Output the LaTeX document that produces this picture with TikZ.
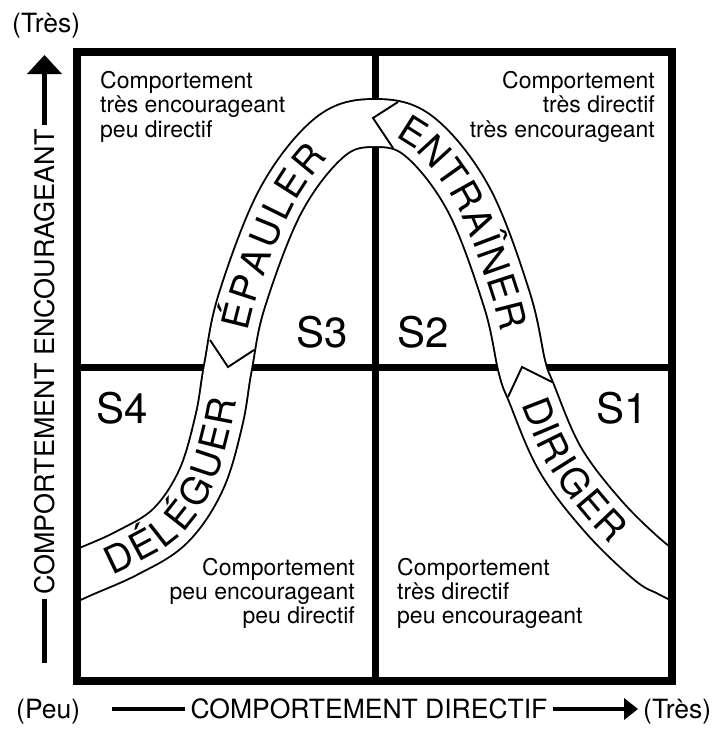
\documentclass[tikz,border=0pt]{standalone}
\usepackage{fontspec}
\setmainfont{TeX Gyre Heros}
\usetikzlibrary{decorations.markings}
\newcommand\bandfont{\fontsize{38}{40}\selectfont}
\begin{document}
\begin{tikzpicture}[x=1pt,y=-1pt,
  quad/.style={font=\fontsize{23}{24}\selectfont, inner sep=0pt},
  axislbl/.style={font=\fontsize{26.5}{28}\selectfont, inner sep=0pt},
  slabel/.style={font=\fontsize{42}{44}\selectfont, inner sep=0pt},
  midline/.style={line width=7pt},
  frame/.style={line width=8pt},
  bandedge/.style={line width=1.9pt, double=white, double distance=46pt},
  chev/.style={line width=1.9pt, line join=miter},
  bandletter/.style={font=\bandfont, inner sep=0pt, text height=27.3pt, text depth=0pt, anchor=center, transform shape},
  axisline/.style={line width=4.5pt},
]
\useasboundingbox (0,0) rectangle (717,729);

% quadrant lines
\draw[midline] (375,52) -- (375,681);
\draw[midline] (77,367) -- (672,367);

% band
\begin{scope}
\clip (77,52) rectangle (672,681);
\draw[bandedge] plot[smooth, tension=0.6] coordinates {(60,583) (82,573) (127,553) (170,526) (201,480) (219,420) (228,367) (242,300) (281,200) (330,137) (375,123) (420,137) (469,200) (507,300) (522,367) (531,392) (560,459) (603,516) (648,560) (668,572) (690,583)};
\end{scope}

% chevrons
\draw[chev] (210,340) -- (228,367) -- (254,350);
\draw[chev] (508,397) -- (522,367) -- (552,382);
\draw[chev] (398,102) -- (373,118) -- (393,148);

% band words, letter by letter along the centre line
\path[decorate, decoration={markings,
  mark=at position 0.05403 with {\node[bandletter] (d1) {D};},
  mark=at position 0.07700 with {\node[bandletter] (d2) {É};},
  mark=at position 0.09729 with {\node[bandletter] (d3) {L};},
  mark=at position 0.11757 with {\node[bandletter] (d4) {É};},
  mark=at position 0.14149 with {\node[bandletter] (d5) {G};},
  mark=at position 0.16626 with {\node[bandletter] (d6) {U};},
  mark=at position 0.18916 with {\node[bandletter] (d7) {E};},
  mark=at position 0.21216 with {\node[bandletter] (d8) {R};},
  mark=at position 0.29321 with {\node[bandletter] (e1) {É};},
  mark=at position 0.31777 with {\node[bandletter] (e2) {P};},
  mark=at position 0.34232 with {\node[bandletter] (e3) {A};},
  mark=at position 0.36785 with {\node[bandletter] (e4) {U};},
  mark=at position 0.39152 with {\node[bandletter] (e5) {L};},
  mark=at position 0.41425 with {\node[bandletter] (e6) {E};},
  mark=at position 0.43978 with {\node[bandletter] (e7) {R};},
  mark=at position 0.53985 with {\node[bandletter] (n1) {E};},
  mark=at position 0.56403 with {\node[bandletter] (n2) {N};},
  mark=at position 0.58727 with {\node[bandletter] (n3) {T};},
  mark=at position 0.61052 with {\node[bandletter] (n4) {R};},
  mark=at position 0.63460 with {\node[bandletter] (n5) {A};},
  mark=at position 0.65168 with {\node[bandletter] (n6) {Î};},
  mark=at position 0.66960 with {\node[bandletter] (n7) {N};},
  mark=at position 0.69369 with {\node[bandletter] (n8) {E};},
  mark=at position 0.71786 with {\node[bandletter] (n9) {R};},
  mark=at position 0.80273 with {\node[bandletter] (r1) {D};},
  mark=at position 0.81929 with {\node[bandletter] (r2) {I};},
  mark=at position 0.83586 with {\node[bandletter] (r3) {R};},
  mark=at position 0.85242 with {\node[bandletter] (r4) {I};},
  mark=at position 0.86991 with {\node[bandletter] (r5) {G};},
  mark=at position 0.89358 with {\node[bandletter] (r6) {E};},
  mark=at position 0.91641 with {\node[bandletter] (r7) {R};}
  }] plot[smooth, tension=0.6] coordinates {(60,583) (82,573) (127,553) (170,526) (201,480) (219,420) (228,367) (242,300) (281,200) (330,137) (375,123) (420,137) (469,200) (507,300) (522,367) (531,392) (560,459) (603,516) (648,560) (668,572) (690,583)};

% frame
\draw[frame] (77,52) rectangle (672,681);

% quadrant texts
\node[quad, anchor=base west] (tl1) at (100,88) {Comportement};
\node[quad, anchor=base west] (tl2) at (100,112.5) {très encourageant};
\node[quad, anchor=base west] (tl3) at (100,137) {peu directif};
\node[quad, anchor=base east] (tr1) at (655,88) {Comportement};
\node[quad, anchor=base east] (tr2) at (655,112.5) {très directif};
\node[quad, anchor=base east] (tr3) at (655,137) {très encourageant};
\node[quad, anchor=base east] (bl1) at (355,575) {Comportement};
\node[quad, anchor=base east] (bl2) at (355,599) {peu encourageant};
\node[quad, anchor=base east] (bl3) at (355,623) {peu directif};
\node[quad, anchor=base west] (br1) at (397,575) {Comportement};
\node[quad, anchor=base west] (br2) at (397,599) {très directif};
\node[quad, anchor=base west] (br3) at (397,623) {peu encourageant};

% S labels
\node[slabel, anchor=base east] (s3) at (348,347) {S3};
\node[slabel, anchor=base west] (s2) at (397,347) {S2};
\node[slabel, anchor=base west] (s4) at (96,423) {S4};
\node[slabel, anchor=base east] (s1) at (648,423) {S1};

% vertical axis
\node[axislbl, font=\fontsize{27}{28}\selectfont, rotate=90, inner xsep=4pt] (lx) at (44.5,362) {COMPORTEMENT ENCOURAGEANT};
\coordinate (ltip) at (44.5,55);
\coordinate (lend) at (44.5,663);
\draw[axisline, line width=5.5pt] (lx.east) -- (44.5,74);
\fill (27,74) -- (ltip) -- (62,74) -- cycle;
\draw[axisline, line width=5.5pt] (lx.west) -- (lend);
\node[axislbl, anchor=base west] (ttop) at (12,32) {(Très)};

% horizontal axis
\node[axislbl, anchor=base, inner xsep=5pt] (bx) at (369,718) {COMPORTEMENT DIRECTIF};
\coordinate (bstart) at (112,709);
\coordinate (btip) at (638,709);
\draw[axisline] (bstart) -- (bx.west |- bstart);
\draw[axisline] (bx.east |- bstart) -- (625,709);
\fill (624,698) -- (btip) -- (624,720) -- cycle;
\node[axislbl, anchor=base west] (peu) at (16,718) {(Peu)};
\node[axislbl, anchor=base west] (tres) at (643,718) {(Très)};
\end{tikzpicture}
\end{document}
